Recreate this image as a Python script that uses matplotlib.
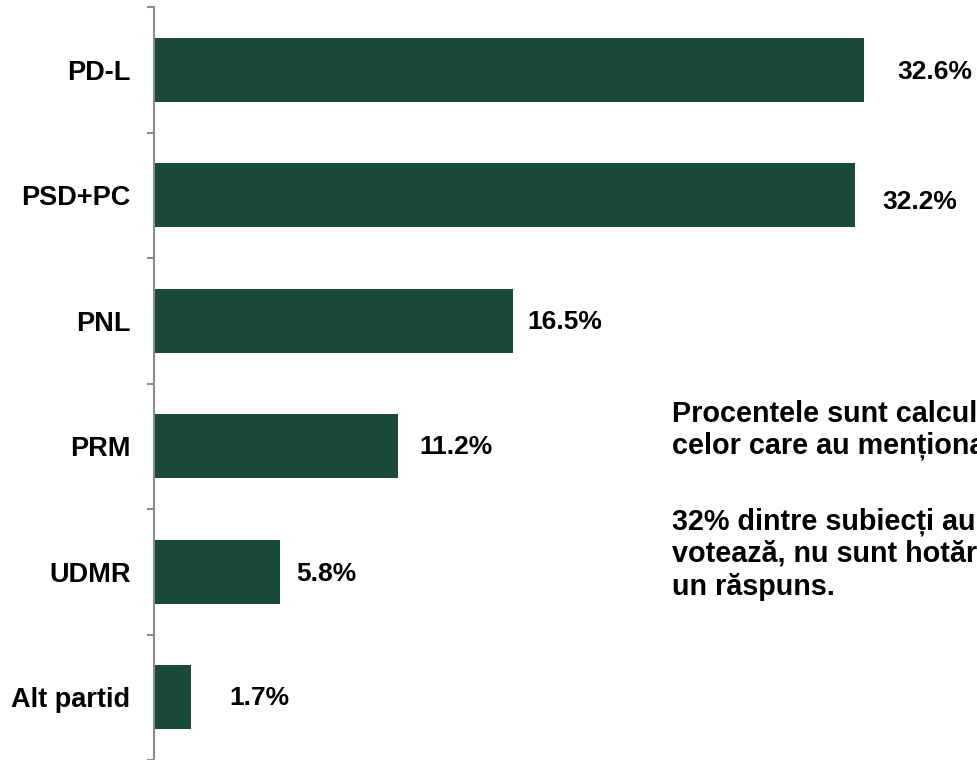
import matplotlib.pyplot as plt
import numpy as np

plt.rcParams['font.family'] = ['Liberation Sans', 'DejaVu Sans']
plt.rcParams['font.weight'] = 'bold'

parties = ['PD-L', 'PSD+PC', 'PNL', 'PRM', 'UDMR', 'Alt partid']
values = [32.6, 32.2, 16.5, 11.2, 5.8, 1.7]
value_labels = ['32.6%', '32.2%', '16.5%', '11.2%', '5.8%', '1.7%']

note_1 = ('Procentele sunt calculate din totalul\n'
          'celor care au menționat o opțiune.')
note_2 = ('32% dintre subiecți au declarat că nu\n'
          'votează, nu sunt hotărâți sau nu au dat\n'
          'un răspuns.')

bar_color = '#1a4a38'
axis_gray = '#8c8c8c'

fig = plt.figure(figsize=(9.77, 7.6), dpi=100)
ax = fig.add_axes([154 / 977, 0.0, 823 / 977, 753 / 760])

y = np.arange(len(parties))
ax.barh(y, values, height=0.51, color=bar_color)
ax.set_ylim(len(parties) - 0.5, -0.5)
ax.set_xlim(0, 823 / 21.78)

# value labels to the right of each bar (offsets in px, as in the original)
dx = [33, 27, 14, 21, 16, 38]
dy = [-2, -7, -1, -1, -2, -1]
for yi, v, lab, ox, oy in zip(y, values, value_labels, dx, dy):
    ax.annotate(lab, (v, yi), xytext=(ox * 0.72, oy * 0.72), textcoords='offset points',
                ha='left', va='center', fontsize=19, fontweight='bold')

for s in ['top', 'right', 'bottom']:
    ax.spines[s].set_visible(False)
ax.spines['left'].set_color(axis_gray)
ax.spines['left'].set_linewidth(1.5)

ax.set_xticks([])
ax.set_yticks(np.arange(len(parties) + 1) - 0.5)
ax.set_yticklabels([])
ax.tick_params(axis='y', which='major', length=5, width=1.5, color=axis_gray)
ax.set_yticks(y, minor=True)
ax.set_yticklabels(parties, minor=True, fontsize=19.5, fontweight='bold')
ax.tick_params(axis='y', which='minor', length=0, pad=17)

fig.text(672 / 977, 1 - 400 / 760, note_1, ha='left', va='top',
         fontsize=20.7, fontweight='bold', linespacing=1.16)
fig.text(672 / 977, 1 - 508 / 760, note_2, ha='left', va='top',
         fontsize=20.7, fontweight='bold', linespacing=1.16)

fig.savefig('out.png', dpi=100)
